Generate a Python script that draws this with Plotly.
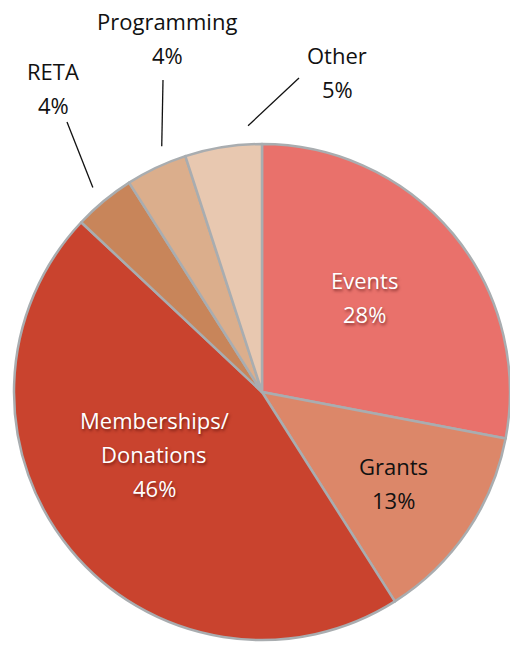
import numpy as np
import plotly.graph_objects as go

# ---- data ----
labels = ["Events", "Grants", "Memberships/Donations", "RETA", "Programming", "Other"]
label_lines = [["Events"], ["Grants"], ["Memberships/", "Donations"], ["RETA"], ["Programming"], ["Other"]]
values = [28, 13, 46, 4, 4, 5]
colors = ["#E9716B", "#DC8769", "#C9432E", "#C8855A", "#DBAE8C", "#E8C8B0"]

# ---- layout constants (pixels) ----
W, H = 510, 645
CX, CY, R = 262, 392, 248
FONT = "Open Sans"
FS = 22
LINE_GAP = 34

# label centre positions (pixel), text colour
label_pos = [(364, 280), (393, 466), (154, 420), (53, 71), (167, 21), (337, 55)]
label_color = ["white", "#111111", "white", "#111111", "#111111", "#111111"]
# leader lines for outside labels: outer end (pixel), angular nudge (deg), radius factor of inner end
leaders = {3: ((67, 122), 0.0, 1.07), 4: ((163, 80), 3.0, 1.07), 5: ((299, 78), 6.0, 1.075)}

vals = np.array(values, dtype=float)
pct = vals / vals.sum() * 100
cum = np.cumsum(vals) / vals.sum()
mid = (cum - vals / vals.sum() / 2) * 360.0  # clockwise from 12 o'clock


def px2paper(x, y):
    return x / W, 1 - y / H


fig = go.Figure()
fig.add_trace(go.Pie(
    labels=labels, values=values, sort=False, direction="clockwise", rotation=0,
    marker=dict(colors=colors, line=dict(color="#A9ADB0", width=2.5)),
    textinfo="none", hoverinfo="label+percent", showlegend=False,
    domain=dict(x=[(CX - R) / W, min(1.0, (CX + R) / W)],
                y=[(H - (CY + R)) / H, (H - (CY - R)) / H]),
))

annotations = []
for i, lines in enumerate(label_lines):
    allines = lines + [f"{pct[i]:.0f}%"]
    x0, y0 = label_pos[i]
    for j, t in enumerate(allines):
        px, py = px2paper(x0, y0 + j * LINE_GAP)
        font = dict(family=FONT, size=FS, color=label_color[i])
        if label_color[i] == "white":
            font["shadow"] = "1px 2px 3px rgba(60,0,0,0.55)"
        annotations.append(dict(x=px, y=py, xref="paper", yref="paper", text=t,
                                showarrow=False, xanchor="center", yanchor="middle",
                                font=font))

shapes = []
for i, (outer, nudge, rf) in leaders.items():
    a = np.deg2rad(mid[i] + nudge)
    ix = CX + rf * R * np.sin(a)
    iy = CY - rf * R * np.cos(a)
    x0, y0 = px2paper(*outer)
    x1, y1 = px2paper(ix, iy)
    shapes.append(dict(type="line", xref="paper", yref="paper", x0=x0, y0=y0, x1=x1, y1=y1,
                       line=dict(color="#111111", width=1.3)))

fig.update_layout(
    width=W, height=H, autosize=False,
    margin=dict(l=0, r=0, t=0, b=0),
    paper_bgcolor="white", plot_bgcolor="white",
    annotations=annotations, shapes=shapes,
)

fig.write_html("out.html", config={"displayModeBar": False},
               post_script="document.body.style.margin='0';document.body.style.overflow='hidden';")
